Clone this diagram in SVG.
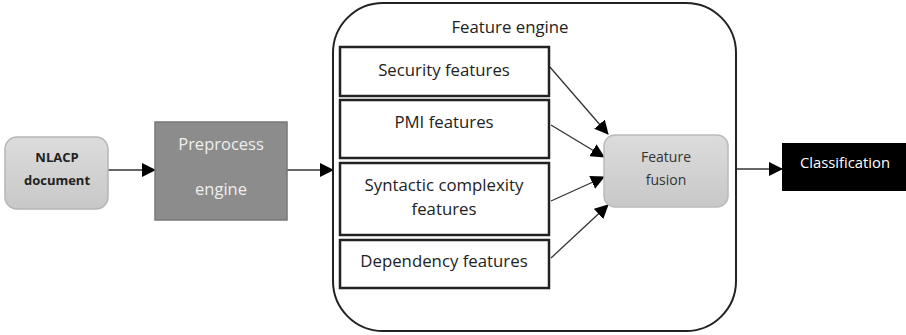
<svg xmlns="http://www.w3.org/2000/svg" width="906" height="335" viewBox="0 0 906 335">
<defs>
<marker id="ahb" markerWidth="14" markerHeight="14" refX="13" refY="7" orient="auto" markerUnits="userSpaceOnUse" viewBox="0 0 14 14">
<path d="M0,0 L14,7 L0,14 z" fill="#000"/>
</marker>
<linearGradient id="g1" x1="0" y1="0" x2="0" y2="1">
<stop offset="0" stop-color="#dcdcdc"/>
<stop offset="1" stop-color="#c8c8c8"/>
</linearGradient>
</defs>
<style>
text{font-family:"Open Sans","Liberation Sans",sans-serif;text-anchor:middle;}
.t{font-size:16.8px;fill:#222;}
.box{fill:#fff;stroke:#222;stroke-width:2.5;}
.c{stroke:#333;stroke-width:1.3;fill:none;}
</style>
<rect width="906" height="335" fill="#fff"/>
<g id="connectors">
<line class="c" x1="108" y1="170" x2="155" y2="170" marker-end="url(#ahb)"/>
<line class="c" x1="287" y1="170" x2="333" y2="170" marker-end="url(#ahb)"/>
<line class="c" x1="549" y1="66" x2="608" y2="134" marker-end="url(#ahb)"/>
<line class="c" x1="551" y1="125" x2="604" y2="157" marker-end="url(#ahb)"/>
<line class="c" x1="551" y1="201" x2="604" y2="177" marker-end="url(#ahb)"/>
<line class="c" x1="551" y1="258" x2="608" y2="205" marker-end="url(#ahb)"/>
<line class="c" x1="736" y1="169" x2="782" y2="169" marker-end="url(#ahb)"/>
</g>
<g id="nlacp">
<rect x="5" y="137" width="103" height="72" rx="12" fill="url(#g1)" stroke="#b5b5b5" stroke-width="1.5"/>
<text x="57" y="162" style="font-size:13px;font-weight:bold;fill:#222;">NLACP</text>
<text x="57" y="185" style="font-size:13px;font-weight:bold;fill:#222;">document</text>
</g>
<g id="preprocess">
<rect x="155" y="122" width="132" height="98" fill="#8c8c8c" stroke="#777" stroke-width="1.5"/>
<text x="221" y="150" style="font-size:16.5px;fill:#eee;">Preprocess</text>
<text x="221" y="195" style="font-size:16.5px;fill:#eee;">engine</text>
</g>
<g id="feature-engine">
<rect x="333" y="3" width="403" height="328" rx="50" fill="none" stroke="#222" stroke-width="2"/>
<text class="t" x="510" y="33">Feature engine</text>
</g>
<g id="security">
<rect class="box" x="340" y="47" width="209" height="49"/>
<text class="t" x="444" y="76">Security features</text>
</g>
<g id="pmi">
<rect class="box" x="340" y="100" width="209" height="58"/>
<text class="t" x="444" y="128">PMI features</text>
</g>
<g id="syntactic">
<rect class="box" x="340" y="163" width="209" height="72"/>
<text class="t" x="444" y="191">Syntactic complexity</text>
<text class="t" x="444" y="215">features</text>
</g>
<g id="dependency">
<rect class="box" x="340" y="240" width="209" height="48"/>
<text class="t" x="444" y="267">Dependency features</text>
</g>
<g id="fusion">
<rect x="604" y="135" width="124" height="72" rx="11" fill="url(#g1)" stroke="#bbb" stroke-width="1.5"/>
<text x="666" y="162" style="font-size:14px;fill:#333;">Feature</text>
<text x="666" y="185" style="font-size:14px;fill:#333;">fusion</text>
</g>
<g id="classification">
<rect x="782" y="143" width="124" height="48" fill="#000"/>
<text x="845" y="168" style="font-size:14.8px;fill:#fff;">Classification</text>
</g>
</svg>
